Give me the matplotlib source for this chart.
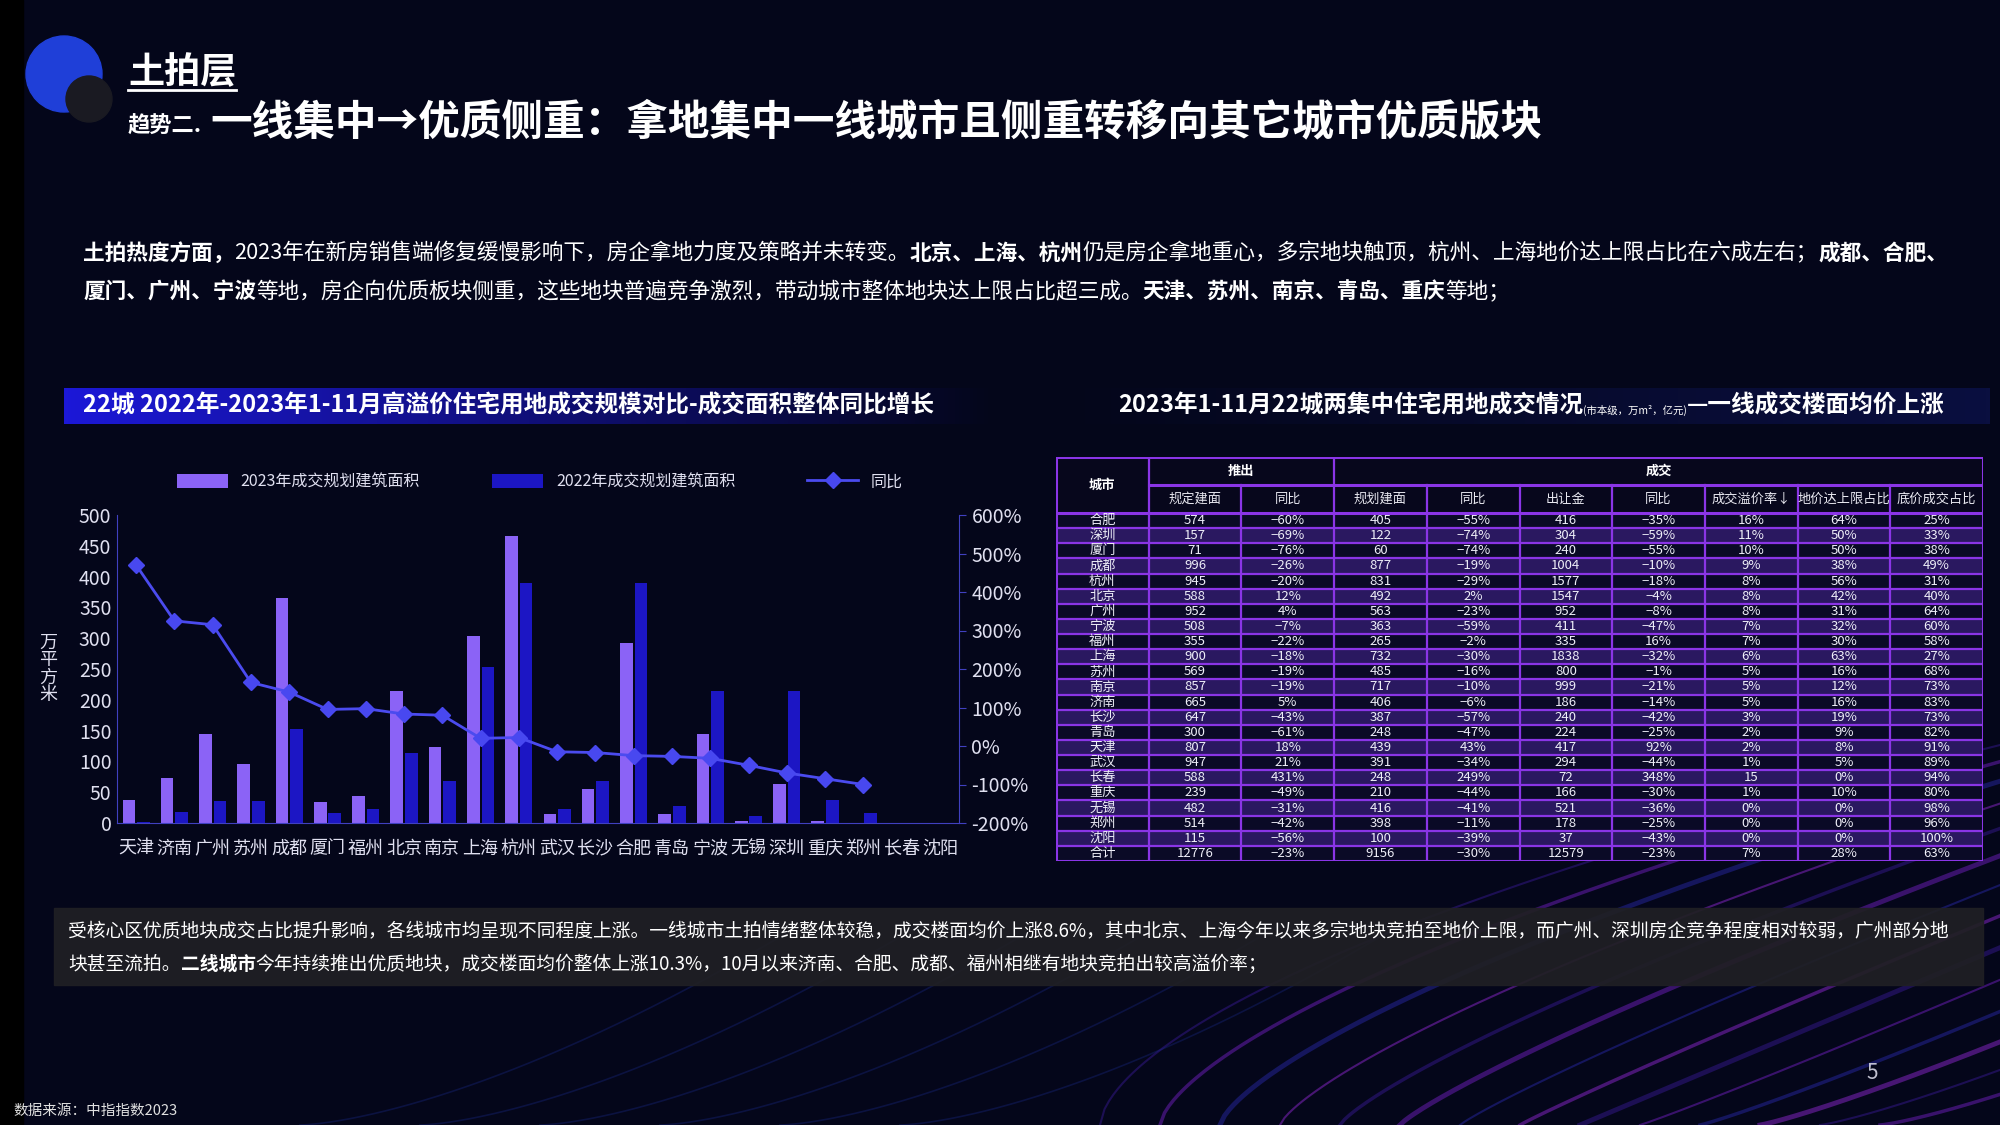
import matplotlib
matplotlib.use("Agg")
import matplotlib.pyplot as plt
import numpy as np
from matplotlib.transforms import IdentityTransform
from matplotlib.patches import Rectangle, Circle
from matplotlib.colors import LinearSegmentedColormap

FONT = "Noto Sans CJK SC"
plt.rcParams["font.family"] = FONT

cities = ["天津","济南","广州","苏州","成都","厦门","福州","北京","南京","上海","杭州",
          "武汉","长沙","合肥","青岛","宁波","无锡","深圳","重庆","郑州","长春","沈阳"]
area_2023 = [38,73,145,96,365,34,44,215,124,304,466,15,55,292,15,145,3,64,3,0,0,0]
area_2022 = [2,18,36,35,153,16,23,114,68,254,390,22,68,390,28,215,12,215,38,17,0,0]
yoy = [470,325,315,165,140,95,97,83,80,20,22,-15,-17,-25,-27,-32,-50,-70,-85,-100]

tbl_header1 = ["城市","推出","成交"]
tbl_header2 = ["规定建面","同比","规划建面","同比","出让金","同比","成交溢价率↓","地价达上限占比","底价成交占比"]
tbl_rows = [
["合肥","574","-60%","405","-55%","416","-35%","16%","64%","25%"],
["深圳","157","-69%","122","-74%","304","-59%","11%","50%","33%"],
["厦门","71","-76%","60","-74%","240","-55%","10%","50%","38%"],
["成都","996","-26%","877","-19%","1004","-10%","9%","38%","49%"],
["杭州","945","-20%","831","-29%","1577","-18%","8%","56%","31%"],
["北京","588","12%","492","2%","1547","-4%","8%","42%","40%"],
["广州","952","4%","563","-23%","952","-8%","8%","31%","64%"],
["宁波","508","-7%","363","-59%","411","-47%","7%","32%","60%"],
["福州","355","-22%","265","-2%","335","16%","7%","30%","58%"],
["上海","900","-18%","732","-30%","1838","-32%","6%","63%","27%"],
["苏州","569","-19%","485","-16%","800","-1%","5%","16%","68%"],
["南京","857","-19%","717","-10%","999","-21%","5%","12%","73%"],
["济南","665","5%","406","-6%","186","-14%","5%","16%","83%"],
["长沙","647","-43%","387","-57%","240","-42%","3%","19%","73%"],
["青岛","300","-61%","248","-47%","224","-25%","2%","9%","82%"],
["天津","807","18%","439","43%","417","92%","2%","8%","91%"],
["武汉","947","21%","391","-34%","294","-44%","1%","5%","89%"],
["长春","588","431%","248","249%","72","348%","15","0%","94%"],
["重庆","239","-49%","210","-44%","166","-30%","1%","10%","80%"],
["无锡","482","-31%","416","-41%","521","-36%","0%","0%","98%"],
["郑州","514","-42%","398","-11%","178","-25%","0%","0%","96%"],
["沈阳","115","-56%","100","-39%","37","-43%","0%","0%","100%"],
["合计","12776","-23%","9156","-30%","12579","-23%","7%","28%","63%"],
]

W, H = 2000, 1125
fig = plt.figure(figsize=(20, 11.25), dpi=100)
fig.patch.set_facecolor("#04061a")

bg = fig.add_axes([0, 0, 1, 1], zorder=-10)
bg.set_xlim(0, W); bg.set_ylim(H, 0); bg.axis("off")
bg.add_patch(Rectangle((0, 0), 23, H, color="#000000"))
t = np.linspace(0, 1, 200)
for i in range(14):
    x0 = 1100 + i * 60
    xs = x0 + 900 * t
    ys = 1125 - 380 * t ** (0.6 + i * 0.05)
    col = ["#3a1a9a", "#7a22d0", "#2a2ab0", "#9a2ae0"][i % 4]
    bg.plot(xs, ys, color=col, lw=1.5 + (i % 3), alpha=0.45)
for i in range(6):
    xs = 300 + i * 120 + 500 * t
    ys = 1125 - 200 * t ** 1.5
    bg.plot(xs, ys, color="#1a2a8a", lw=1.2, alpha=0.35)
bg.add_patch(Circle((64, 74), 38, color="#1f3fd8"))
bg.add_patch(Circle((89, 99), 23, color="#1a1a22"))

grad = np.linspace(1, 0, 256).reshape(1, -1)
cm1 = LinearSegmentedColormap.from_list("b1", ["#04061a", "#1c18d8"])
bg.imshow(grad, extent=(64, 995, 424, 388), cmap=cm1, aspect="auto", zorder=1)
cm2 = LinearSegmentedColormap.from_list("b2", ["#04061a", "#0a0f40"])
bg.imshow(grad[:, ::-1], extent=(1060, 1990, 424, 388), cmap=cm2, aspect="auto", zorder=1)
bg.add_patch(Rectangle((54, 908), 1929, 77, color="#202024", alpha=0.92, zorder=2))

renderer = fig.canvas.get_renderer()

def seq(x, y, segs, size, color="white"):
    for txt, bold in segs:
        tt = fig.text(x, H - y, txt, transform=IdentityTransform(), fontsize=size,
                      color=color, fontweight="bold" if bold else "normal",
                      va="center", ha="left", zorder=5)
        x += tt.get_window_extent(renderer).width
    return x

tt = fig.text(128, H - 73, "土拍层", transform=IdentityTransform(), fontsize=26,
              color="white", fontweight="bold", style="italic", va="center")
ext = tt.get_window_extent(renderer)
bg.plot([ext.x0, ext.x1], [90, 90], color="white", lw=2, zorder=5)

seq(128, 126, [("趋势二.", True)], 16)
seq(210, 122, [("一线集中→优质侧重：拿地集中一线城市且侧重转移向其它城市优质版块", True)], 30)

seq(83, 253, [("土拍热度方面，", True),
              ("2023年在新房销售端修复缓慢影响下，房企拿地力度及策略并未转变。", False),
              ("北京、上海、杭州", True),
              ("仍是房企拿地重心，多宗地块触顶，杭州、上海地价达上限占比在六成左右；", False),
              ("成都、合肥、", True)], 15.6)
seq(83, 292, [("厦门、广州、宁波", True),
              ("等地，房企向优质板块侧重，这些地块普遍竞争激烈，带动城市整体地块达上限占比超三成。", False),
              ("天津、苏州、南京、青岛、重庆", True),
              ("等地；", False)], 15.6)

seq(83, 406, [("22城 2022年-2023年1-11月高溢价住宅用地成交规模对比-成交面积整体同比增长", True)], 17)
x = seq(1118, 406, [("2023年1-11月22城两集中住宅用地成交情况", True)], 17)
x = seq(x, 410, [("(市本级，万m²，亿元)", False)], 7.5)
seq(x, 406, [("—一线成交楼面均价上涨", True)], 17)

seq(68, 932, [("受核心区优质地块成交占比提升影响，各线城市均呈现不同程度上涨。一线城市土拍情绪整体较稳，成交楼面均价上涨8.6%，其中北京、上海今年以来多宗地块竞拍至地价上限，而广州、深圳房企竞争程度相对较弱，广州部分地", False)], 13.5)
seq(68, 964, [("块甚至流拍。", False), ("二线城市", True),
              ("今年持续推出优质地块，成交楼面均价整体上涨10.3%，10月以来济南、合肥、成都、福州相继有地块竞拍出较高溢价率；", False)], 13.5)

fig.text(1866, H - 1073, "5", transform=IdentityTransform(), fontsize=15, color="#c0c0d0", va="center")
fig.text(13, H - 1111, "数据来源：中指指数2023", transform=IdentityTransform(), fontsize=10.5, color="#e0e0e0", va="center")

L, R, T, B = 117, 959, 515, 823
ax = fig.add_axes([L / W, 1 - B / H, (R - L) / W, (B - T) / H])
ax.set_facecolor("none")
n = len(cities)
xi = np.arange(n)
bw = 0.33
ax.bar(xi - 0.19, area_2023, bw, color="#8b63f6", label="2023年成交规划建筑面积", zorder=2)
ax.bar(xi + 0.19, area_2022, bw, color="#1c16c4", label="2022年成交规划建筑面积", zorder=2)
ax.set_ylim(0, 500); ax.set_xlim(-0.5, n - 0.5)
ax.set_yticks(range(0, 501, 50))
ax.set_xticks(xi); ax.set_xticklabels(cities)
for s in ["top", "right"]:
    ax.spines[s].set_visible(False)
for s in ["left", "bottom"]:
    ax.spines[s].set_color("#4040c0")
ax.tick_params(colors="#e0e0f0", labelsize=14, length=0, pad=4)
ax.tick_params(axis="x", pad=12, labelsize=13)
ax.set_ylabel("万\n平\n方\n米", rotation=0, color="#e0e0f0", fontsize=13, linespacing=0.95, labelpad=22, va="center")
ax2 = ax.twinx()
ax2.plot(xi[:len(yoy)], yoy, color="#4b4bef", lw=2, marker="D", markersize=8,
         markerfacecolor="#4848f0", markeredgecolor="#4848f0", label="同比", zorder=3)
ax2.set_ylim(-200, 600)
ax2.set_yticks(range(-200, 601, 100))
ax2.set_yticklabels([f"{v}%" for v in range(-200, 601, 100)])
for s in ["top", "left", "bottom"]:
    ax2.spines[s].set_visible(False)
ax2.spines["right"].set_color("#4040c0")
ax2.tick_params(colors="#e0e0f0", labelsize=14, length=5, color="#4040c0", pad=4)
h1, l1 = ax.get_legend_handles_labels()
h2, l2 = ax2.get_legend_handles_labels()
fig.legend(h1 + h2, l1 + l2, loc="center", bbox_to_anchor=(540 / W, 1 - 482 / H), ncol=3,
           frameon=False, fontsize=11.5, labelcolor="#e0e0f0", handlelength=3.2,
           columnspacing=4.5, handleheight=1.0)

tl, tr, tt_, tb = 1056, 1983, 457, 861
tax = fig.add_axes([tl / W, 1 - tb / H, (tr - tl) / W, (tb - tt_) / H])
tax.axis("off")
hh = 1.85
nrows = len(tbl_rows)
total = 2 * hh + nrows
tax.set_xlim(0, 10); tax.set_ylim(total, 0)
border = "#8a35e6"
tax.add_patch(Rectangle((0, 0), 10, 2 * hh, color="#07071c"))
for r in range(nrows):
    c = "#0a0a26" if r % 2 == 0 else "#2a1860"
    tax.add_patch(Rectangle((0, 2 * hh + r), 10, 1, color=c))
lw = 1.6
tax.plot([0, 10, 10, 0, 0], [0, 0, total, total, 0], color=border, lw=2.2)
tax.plot([1, 10], [hh, hh], color=border, lw=2.2)
tax.plot([0, 10], [2 * hh, 2 * hh], color=border, lw=2.2)
for c in range(1, 10):
    y0 = 0 if c in (1, 3) else hh
    tax.plot([c, c], [y0, total], color=border, lw=lw)
for r in range(1, nrows):
    tax.plot([0, 10], [2 * hh + r, 2 * hh + r], color=border, lw=lw)
tax.text(0.5, hh, tbl_header1[0], ha="center", va="center", color="white", fontsize=9.5, fontweight="bold")
tax.text(2, hh / 2, tbl_header1[1], ha="center", va="center", color="white", fontsize=9.5, fontweight="bold")
tax.text(6.5, hh / 2, tbl_header1[2], ha="center", va="center", color="white", fontsize=9.5, fontweight="bold")
for c, h in enumerate(tbl_header2):
    tax.text(c + 1.5, 1.5 * hh, h, ha="center", va="center", color="#e8e8f0", fontsize=9.5)
for r, row in enumerate(tbl_rows):
    for c, v in enumerate(row):
        tax.text(c + 0.5, 2 * hh + r + 0.5, v.replace("-", "−"), ha="center", va="center",
                 color="#eeeef8", fontsize=9.5)

fig.savefig("out.png", dpi=100, facecolor=fig.get_facecolor())
